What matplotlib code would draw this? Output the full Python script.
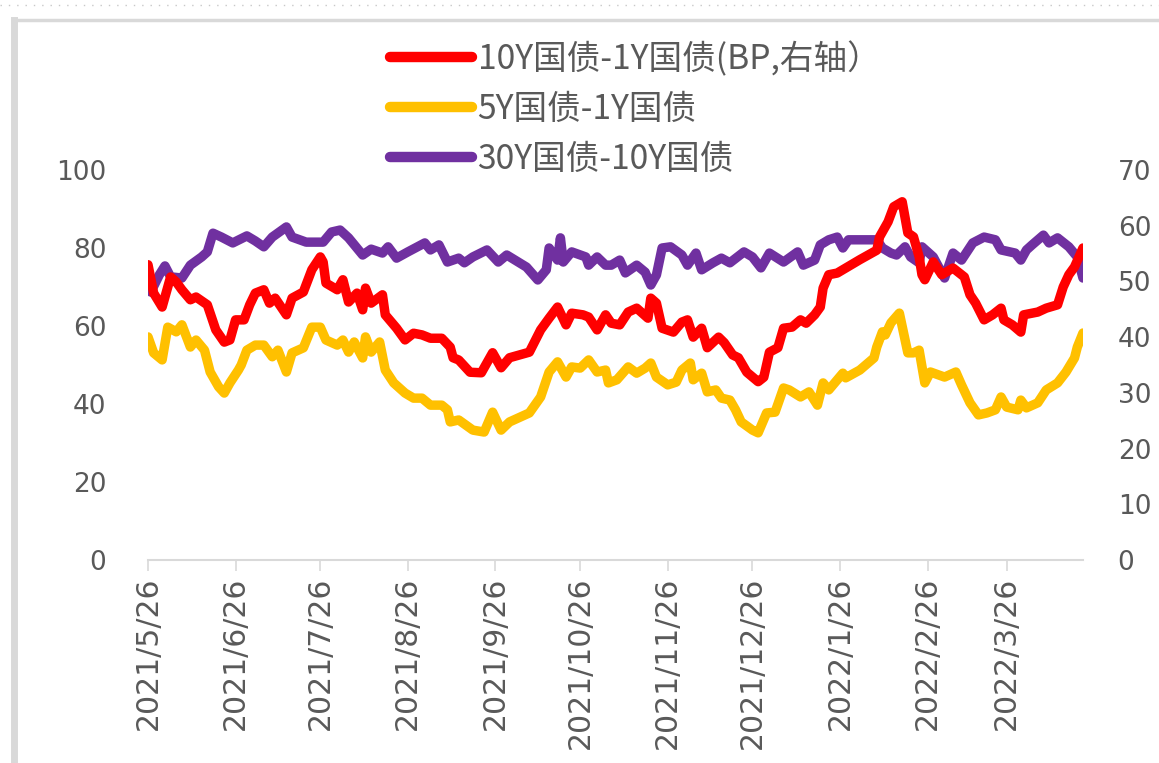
import matplotlib.pyplot as plt
import matplotlib.dates as mdates
import pandas as pd

plt.rcParams['font.family'] = ['Noto Sans CJK SC', 'DejaVu Sans']

# 10Y-1Y spread (bp, right axis)
red_dates = ['2021-05-26', '2021-05-28', '2021-05-31', '2021-06-02', '2021-06-03', '2021-06-05',
             '2021-06-07', '2021-06-10', '2021-06-12', '2021-06-16', '2021-06-19', '2021-06-22',
             '2021-06-24', '2021-06-26', '2021-06-29', '2021-07-01', '2021-07-03', '2021-07-06',
             '2021-07-08', '2021-07-10', '2021-07-14', '2021-07-16', '2021-07-20', '2021-07-23',
             '2021-07-26', '2021-07-27', '2021-07-28', '2021-08-01', '2021-08-03', '2021-08-05',
             '2021-08-08', '2021-08-10', '2021-08-11', '2021-08-13', '2021-08-17', '2021-08-18',
             '2021-08-22', '2021-08-25', '2021-08-28', '2021-08-31', '2021-09-03', '2021-09-07',
             '2021-09-10', '2021-09-11', '2021-09-13', '2021-09-17', '2021-09-21', '2021-09-25',
             '2021-09-28', '2021-10-01', '2021-10-08', '2021-10-12', '2021-10-15', '2021-10-18',
             '2021-10-21', '2021-10-23', '2021-10-27', '2021-10-29', '2021-11-01', '2021-11-04',
             '2021-11-06', '2021-11-09', '2021-11-12', '2021-11-15', '2021-11-19', '2021-11-20',
             '2021-11-22', '2021-11-24', '2021-11-28', '2021-12-01', '2021-12-03', '2021-12-05',
             '2021-12-08', '2021-12-10', '2021-12-14', '2021-12-16', '2021-12-19', '2021-12-21',
             '2021-12-24', '2021-12-28', '2021-12-30', '2022-01-01', '2022-01-04', '2022-01-06',
             '2022-01-09', '2022-01-12', '2022-01-14', '2022-01-17', '2022-01-19', '2022-01-20',
             '2022-01-22', '2022-01-25', '2022-01-28', '2022-02-02', '2022-02-08', '2022-02-09',
             '2022-02-12', '2022-02-14', '2022-02-17', '2022-02-19', '2022-02-21', '2022-02-23',
             '2022-02-24', '2022-02-25', '2022-02-28', '2022-03-03', '2022-03-07', '2022-03-11',
             '2022-03-13', '2022-03-15', '2022-03-18', '2022-03-21', '2022-03-24', '2022-03-25',
             '2022-03-28', '2022-03-31', '2022-04-01', '2022-04-06', '2022-04-09', '2022-04-13',
             '2022-04-15', '2022-04-17', '2022-04-19', '2022-04-22']
red_vals = [53.0, 47.9, 45.4, 49.0, 50.8, 49.9, 48.5, 46.7, 47.2, 45.8, 41.3, 39.1,
            39.5, 43.1, 43.1, 45.8, 47.9, 48.5, 46.1, 47.0, 44.0, 47.0, 48.1, 52.1,
            54.4, 53.5, 49.7, 48.5, 50.3, 46.3, 47.9, 44.9, 48.8, 46.1, 47.6, 44.0,
            41.6, 39.5, 40.7, 40.4, 39.8, 39.8, 38.2, 36.3, 35.9, 33.7, 33.6, 37.2,
            34.5, 36.3, 37.3, 41.3, 43.4, 45.4, 42.2, 44.3, 44.0, 43.6, 41.3, 44.0,
            42.5, 42.2, 44.5, 45.2, 43.4, 47.0, 46.1, 41.6, 40.9, 42.7, 43.1, 40.0,
            41.6, 38.1, 40.0, 39.0, 36.8, 36.3, 33.7, 32.0, 32.8, 37.3, 38.1, 41.6,
            41.8, 43.1, 42.5, 44.0, 45.4, 48.8, 51.2, 51.5, 52.4, 53.9, 55.6, 58.0,
            60.7, 63.4, 64.3, 58.7, 58.0, 54.4, 51.2, 50.3, 53.5, 51.2, 52.4, 50.8,
            47.6, 46.1, 43.1, 44.0, 45.2, 43.1, 42.2, 40.9, 44.0, 44.5, 45.2, 45.8,
            49.0, 51.2, 52.6, 56.0]

# 5Y-1Y spread (left axis)
yellow_dates = ['2021-05-26', '2021-05-28', '2021-05-31', '2021-06-02', '2021-06-05', '2021-06-07',
                '2021-06-10', '2021-06-12', '2021-06-15', '2021-06-17', '2021-06-20', '2021-06-22',
                '2021-06-24', '2021-06-27', '2021-06-28', '2021-06-30', '2021-07-03', '2021-07-06',
                '2021-07-09', '2021-07-11', '2021-07-14', '2021-07-16', '2021-07-20', '2021-07-23',
                '2021-07-26', '2021-07-28', '2021-08-01', '2021-08-03', '2021-08-05', '2021-08-07',
                '2021-08-10', '2021-08-11', '2021-08-13', '2021-08-16', '2021-08-18', '2021-08-21',
                '2021-08-25', '2021-08-28', '2021-08-31', '2021-09-03', '2021-09-07', '2021-09-09',
                '2021-09-10', '2021-09-13', '2021-09-18', '2021-09-22', '2021-09-25', '2021-09-28',
                '2021-10-01', '2021-10-08', '2021-10-12', '2021-10-15', '2021-10-18', '2021-10-21',
                '2021-10-23', '2021-10-26', '2021-10-29', '2021-11-01', '2021-11-04', '2021-11-05',
                '2021-11-08', '2021-11-12', '2021-11-15', '2021-11-18', '2021-11-20', '2021-11-22',
                '2021-11-26', '2021-11-29', '2021-12-01', '2021-12-04', '2021-12-05', '2021-12-08',
                '2021-12-10', '2021-12-13', '2021-12-15', '2021-12-18', '2021-12-20', '2021-12-22',
                '2021-12-26', '2021-12-28', '2021-12-31', '2022-01-03', '2022-01-06', '2022-01-08',
                '2022-01-12', '2022-01-15', '2022-01-18', '2022-01-20', '2022-01-22', '2022-01-27',
                '2022-01-28', '2022-02-02', '2022-02-07', '2022-02-08', '2022-02-10', '2022-02-11',
                '2022-02-13', '2022-02-16', '2022-02-19', '2022-02-21', '2022-02-23', '2022-02-25',
                '2022-02-27', '2022-03-04', '2022-03-08', '2022-03-10', '2022-03-13', '2022-03-16',
                '2022-03-19', '2022-03-22', '2022-03-24', '2022-03-26', '2022-03-30', '2022-03-31',
                '2022-04-02', '2022-04-06', '2022-04-09', '2022-04-13', '2022-04-16', '2022-04-19',
                '2022-04-20', '2022-04-22']
yellow_vals = [57.2, 53.1, 51.3, 59.7, 58.5, 60.3, 54.6, 56.4, 53.8, 48.2, 44.4, 42.8,
               45.4, 48.7, 50.0, 53.8, 55.1, 55.1, 52.1, 53.8, 48.2, 53.1, 54.4, 59.7,
               59.7, 56.4, 55.1, 56.4, 53.3, 55.9, 51.8, 57.2, 53.3, 55.9, 48.7, 45.4,
               42.8, 41.5, 41.5, 39.7, 39.7, 38.5, 35.4, 35.9, 33.3, 32.8, 37.9, 33.3,
               35.4, 37.7, 41.8, 48.2, 50.8, 46.9, 49.5, 49.2, 51.3, 48.2, 48.7, 45.4,
               46.2, 49.5, 47.9, 49.2, 50.5, 46.9, 44.9, 45.6, 48.7, 50.5, 46.2, 47.9,
               43.1, 43.6, 41.5, 41.0, 38.5, 35.4, 33.3, 32.6, 37.7, 37.9, 44.1, 43.6,
               41.8, 43.1, 39.7, 45.4, 43.6, 47.9, 46.7, 48.7, 51.8, 54.6, 58.5, 57.7,
               60.8, 63.3, 53.1, 53.1, 53.8, 45.4, 48.2, 46.9, 48.2, 44.9, 40.3, 37.2,
               37.7, 38.5, 41.8, 39.2, 38.5, 41.0, 39.0, 40.3, 43.6, 45.4, 48.2, 51.8,
               54.6, 58.2]

# 30Y-10Y spread (left axis)
purple_dates = ['2021-05-26', '2021-05-27', '2021-05-30', '2021-06-01', '2021-06-03', '2021-06-07',
                '2021-06-10', '2021-06-14', '2021-06-16', '2021-06-18', '2021-06-21', '2021-06-25',
                '2021-06-30', '2021-07-03', '2021-07-06', '2021-07-09', '2021-07-14', '2021-07-16',
                '2021-07-21', '2021-07-27', '2021-07-30', '2021-08-02', '2021-08-05', '2021-08-10',
                '2021-08-13', '2021-08-17', '2021-08-19', '2021-08-22', '2021-08-26', '2021-09-01',
                '2021-09-03', '2021-09-06', '2021-09-09', '2021-09-13', '2021-09-15', '2021-09-18',
                '2021-09-23', '2021-09-27', '2021-09-30', '2021-10-07', '2021-10-11', '2021-10-14',
                '2021-10-15', '2021-10-18', '2021-10-19', '2021-10-20', '2021-10-23', '2021-10-28',
                '2021-10-29', '2021-11-01', '2021-11-04', '2021-11-06', '2021-11-09', '2021-11-11',
                '2021-11-15', '2021-11-18', '2021-11-20', '2021-11-22', '2021-11-24', '2021-11-27',
                '2021-12-01', '2021-12-03', '2021-12-06', '2021-12-08', '2021-12-12', '2021-12-15',
                '2021-12-18', '2021-12-23', '2021-12-26', '2021-12-29', '2022-01-01', '2022-01-06',
                '2022-01-11', '2022-01-13', '2022-01-17', '2022-01-19', '2022-01-22', '2022-01-25',
                '2022-01-27', '2022-01-29', '2022-02-08', '2022-02-10', '2022-02-13', '2022-02-15',
                '2022-02-18', '2022-02-20', '2022-02-23', '2022-02-24', '2022-02-28', '2022-03-04',
                '2022-03-07', '2022-03-10', '2022-03-14', '2022-03-18', '2022-03-22', '2022-03-24',
                '2022-03-29', '2022-03-31', '2022-04-02', '2022-04-04', '2022-04-08', '2022-04-10',
                '2022-04-13', '2022-04-17', '2022-04-20', '2022-04-22']
purple_vals = [71.8, 68.7, 73.1, 75.4, 72.6, 72.3, 75.6, 77.7, 79.0, 83.8, 82.8, 81.3,
               83.1, 81.8, 80.3, 82.8, 85.4, 82.8, 81.5, 81.5, 84.1, 84.6, 82.6, 78.2,
               79.7, 78.7, 80.3, 77.4, 79.0, 81.3, 79.5, 80.8, 76.4, 77.4, 76.2, 77.7,
               79.5, 76.4, 78.2, 75.1, 71.8, 74.4, 80.0, 76.9, 82.6, 76.4, 79.0, 77.7,
               75.6, 77.7, 75.6, 75.6, 76.9, 73.6, 75.6, 73.8, 70.5, 73.1, 80.0, 80.3,
               78.2, 75.6, 78.7, 74.4, 76.2, 77.4, 76.2, 79.0, 77.7, 74.9, 78.7, 76.4,
               79.0, 75.6, 76.9, 80.8, 82.1, 82.8, 80.0, 82.1, 82.1, 80.0, 78.7, 78.2,
               80.3, 77.7, 76.2, 80.3, 77.7, 72.3, 78.7, 76.9, 81.3, 82.8, 82.1, 79.5,
               78.7, 76.9, 79.5, 80.8, 83.3, 81.3, 82.6, 80.3, 77.7, 72.3]

labels = ['10Y国债-1Y国债(BP,右轴）', '5Y国债-1Y国债', '30Y国债-10Y国债']
colors = ['#FF0000', '#FFC000', '#7030A0']
tick_dates = pd.date_range('2021-05-01', '2022-03-01', freq='MS') + pd.Timedelta(days=25)
grey = '#595959'

fig = plt.figure(figsize=(11.59, 7.63), dpi=100)
ax = fig.add_axes([0.1277, 0.2661, 0.8067, 0.5111])
ax2 = ax.twinx()

lw = 6.8
l2, = ax.plot(pd.to_datetime(yellow_dates), yellow_vals, color=colors[1], lw=lw,
              solid_joinstyle='round', solid_capstyle='round')
l3, = ax.plot(pd.to_datetime(purple_dates), purple_vals, color=colors[2], lw=lw,
              solid_joinstyle='round', solid_capstyle='round')
l1, = ax2.plot(pd.to_datetime(red_dates), red_vals, color=colors[0], lw=lw,
               solid_joinstyle='round', solid_capstyle='round')

ax.set_ylim(0, 100)
ax2.set_ylim(0, 70)
ax.set_yticks(range(0, 101, 20))
ax2.set_yticks(range(0, 71, 10))
ax.set_xlim(pd.Timestamp('2021-05-26'), pd.Timestamp('2022-04-22'))
ax.set_xticks(tick_dates)
ax.xaxis.set_major_formatter(mdates.DateFormatter('%Y/%-m/%-d'))

for a in (ax, ax2):
    for s in a.spines.values():
        s.set_visible(False)
ax.spines['bottom'].set_visible(True)
ax.spines['bottom'].set_color('#D9D9D9')
ax.spines['bottom'].set_linewidth(1.5)

ax.tick_params(axis='y', length=0, labelcolor=grey, pad=30)
ax2.tick_params(axis='y', length=0, labelcolor=grey, pad=25)
ax.tick_params(axis='x', length=8, width=1.2, color='#D9D9D9', labelcolor=grey,
               labelrotation=90, pad=4)
for t in ax.get_yticklabels() + ax2.get_yticklabels():
    t.set_fontfamily('DejaVu Sans')
    t.set_fontsize(19)
for t in ax.get_xticklabels():
    t.set_fontfamily('DejaVu Sans')
    t.set_fontsize(21.5)

leg = fig.legend([l1, l2, l3], labels, loc='upper left', bbox_to_anchor=(0.325, 0.963),
                 frameon=False, fontsize=24.2, handlelength=2.45, handletextpad=0.15,
                 labelspacing=0.44, labelcolor=grey, borderaxespad=0)
for h in leg.legend_handles:
    h.set_linewidth(7.5)

# chart frame from the screenshot
fig.add_artist(plt.Line2D([0.0125, 0.0125], [0.0, 0.974], color='#D9D9D9', lw=5,
                          transform=fig.transFigure))
fig.add_artist(plt.Line2D([0.0125, 1.0], [0.974, 0.974], color='#D9D9D9', lw=2.5,
                          transform=fig.transFigure))
fig.add_artist(plt.Line2D([0.0, 1.0], [0.993, 0.993], color='#C8C8C8', lw=1,
                          ls=(0, (1, 5)), transform=fig.transFigure))

fig.savefig('out.png', dpi=100)
